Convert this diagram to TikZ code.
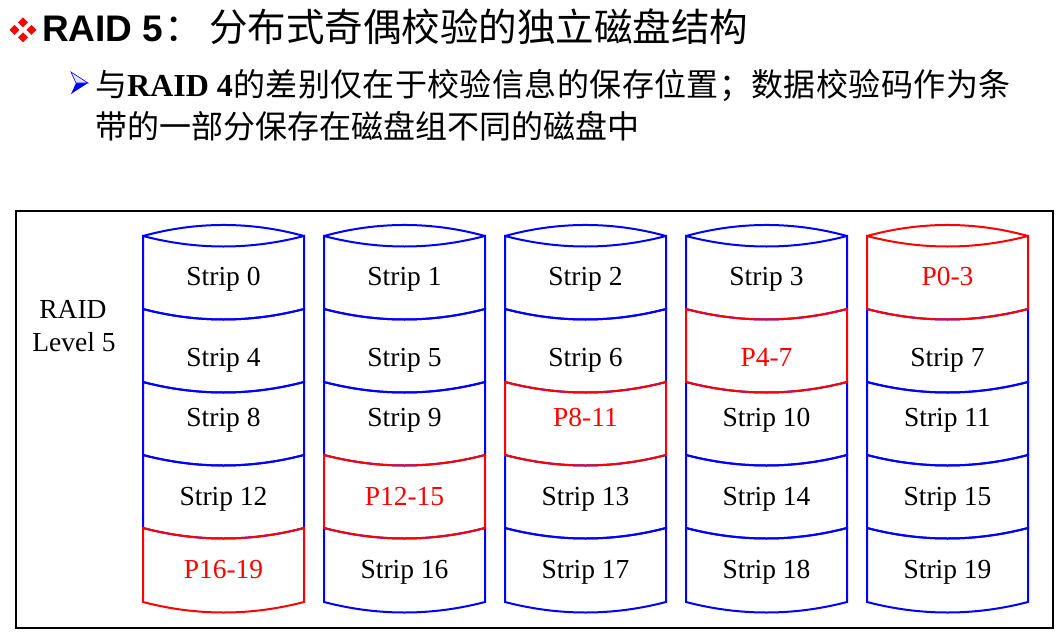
\documentclass[tikz,border=0pt]{standalone}
\usepackage{fontspec}
\setmainfont{Liberation Serif}
\newfontfamily\cjk{Noto Sans CJK SC}
\newfontfamily\arialf{Liberation Sans}
\def\spreadchars#1{\ifx#1\relax\else#1\kern0.4pt\expandafter\spreadchars\fi}
\begin{document}
\begin{tikzpicture}[x=1pt,y=-1pt,
  seg/.style={line width=2pt,line join=miter},
  blueseg/.style={seg,draw=blue},
  redseg/.style={seg,draw=red},
  lbl/.style={font=\fontsize{27.5}{30}\selectfont,anchor=base,inner sep=0pt},
  ttl/.style={anchor=base west,inner sep=0pt},
]
\useasboundingbox (0,0) rectangle (1060,634);
% title bullet
\foreach \dx/\dy in {-8.5/0,8.5/0,0/-7.5,0/7.5}
  \fill[red] (23+\dx,30+\dy) +(-5,0) -- +(0,-5) -- +(5,0) -- +(0,5) -- cycle;
\node[ttl,font=\arialf\bfseries\fontsize{37}{40}\selectfont] (t1) at (42,42) {RAID 5};
\node[ttl,font=\cjk\fontsize{38.5}{40}\selectfont] (t2) at (164,42) {：};
\node[ttl,font=\cjk\fontsize{38.5}{40}\selectfont] (t3) at (209,42) {分布式奇偶校验的独立磁盘结构};
% sub bullet
\fill[blue] (71,94) -- (88,83) -- (76,83) -- cycle;
\draw[blue,line width=0.6pt,fill=blue!12] (71,72) -- (88,83) -- (76,83) -- cycle;
\node[ttl,font=\cjk\fontsize{32}{36}\selectfont] (s1) at (95,96) {与};
\node[ttl,font=\bfseries\fontsize{32}{36}\selectfont] (s2) at (127,96) {RAID 4};
\node[ttl,font=\cjk\fontsize{32}{36}\selectfont] (s3) at (233,96) {\spreadchars 的差别仅在于校验信息的保存位置；数据校验码作为条\relax};
\node[ttl,font=\cjk\fontsize{32}{36}\selectfont] (s4) at (95,138) {带的一部分保存在磁盘组不同的磁盘中};
% frame
\draw[line width=2.5pt] (16,211) rectangle (1053,628);
\node[lbl] (raid) at (73,318) {RAID};
\node[lbl] (lvl) at (74,351) {Level 5};
% blue segments
\foreach \c/\r/\t in {0/0/Strip 0,0/1/Strip 4,0/2/Strip 8,0/3/Strip 12,
  1/0/Strip 1,1/1/Strip 5,1/2/Strip 9,1/4/Strip 16,
  2/0/Strip 2,2/1/Strip 6,2/3/Strip 13,2/4/Strip 17,
  3/0/Strip 3,3/2/Strip 10,3/3/Strip 14,3/4/Strip 18,
  4/1/Strip 7,4/2/Strip 11,4/3/Strip 15,4/4/Strip 19}{
  \pgfmathsetmacro\L{143+181*\c}
  \pgfmathsetmacro\R{\L+161}
  \pgfmathsetmacro\M{\L+80.5}
  \pgfmathsetmacro\yt{{236,309,382,455,528,602}[\r]}
  \pgfmathsetmacro\yb{{236,309,382,455,528,602}[\r+1]}
  \pgfmathsetmacro\yl{{285,366,426,505,578}[\r]}
  \draw[blueseg] (\L,\yt) -- (\L,\yb) .. controls (\L+53.67,\yb+14) and (\R-53.67,\yb+14) .. (\R,\yb)
    -- (\R,\yt) .. controls (\R-53.67,\yt+14) and (\L+53.67,\yt+14) .. (\L,\yt) -- cycle;
  \ifnum\r=0
    \draw[blueseg] (\L,236) .. controls (\L+53.67,221.3) and (\R-53.67,221.3) .. (\R,236);
  \fi
  \node[lbl] (n\c\r) at (\M,\yl) {\t};
}
% red (parity) segments
\foreach \c/\r/\t in {0/4/P16-19,1/3/P12-15,2/2/P8-11,3/1/P4-7,4/0/P0-3}{
  \pgfmathsetmacro\L{143+181*\c}
  \pgfmathsetmacro\R{\L+161}
  \pgfmathsetmacro\M{\L+80.5}
  \pgfmathsetmacro\yt{{236,309,382,455,528,602}[\r]}
  \pgfmathsetmacro\yb{{236,309,382,455,528,602}[\r+1]}
  \pgfmathsetmacro\yl{{285,366,426,505,578}[\r]}
  \draw[redseg] (\L,\yt) -- (\L,\yb) .. controls (\L+53.67,\yb+14) and (\R-53.67,\yb+14) .. (\R,\yb)
    -- (\R,\yt) .. controls (\R-53.67,\yt+14) and (\L+53.67,\yt+14) .. (\L,\yt) -- cycle;
  \ifnum\r=0
    \draw[redseg] (\L,236) .. controls (\L+53.67,221.3) and (\R-53.67,221.3) .. (\R,236);
  \fi
  \node[lbl,text=red] (p\c\r) at (\M,\yl) {\t};
}
\end{tikzpicture}
\end{document}
